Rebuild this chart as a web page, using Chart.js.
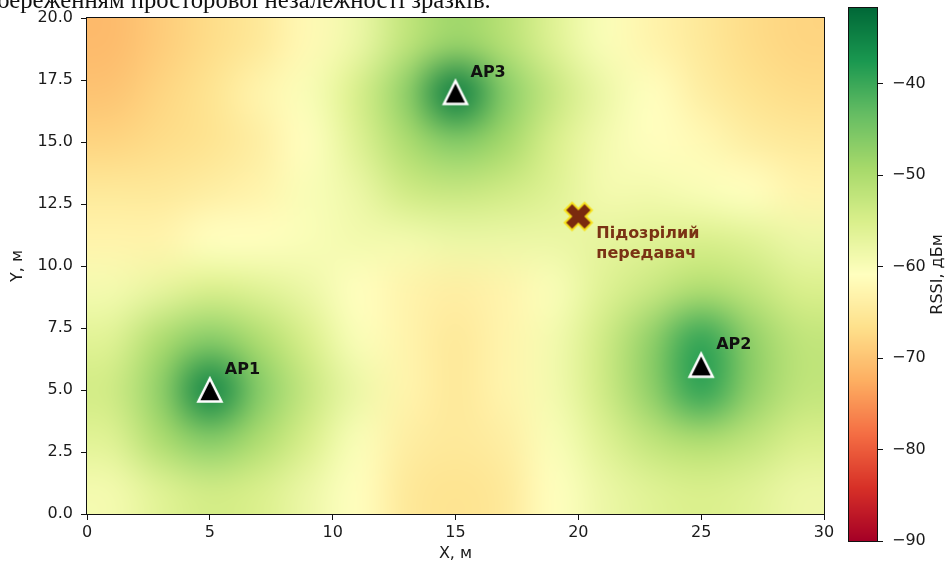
<!DOCTYPE html>
<html lang="uk">
<head>
<meta charset="UTF-8">
<title>RSSI heatmap</title>
<script src="https://cdn.jsdelivr.net/npm/chart.js"></script>
<style>
  body { margin: 0; background: #fff; width: 949px; height: 567px; overflow: hidden; position: relative; }
  #main { position: absolute; left: 0; top: 0; }
  #cbar { position: absolute; left: 840px; top: 0; }
  #caption {
    position: absolute; left: -3px; top: -12px; z-index: 2;
    font: 24.7px/24px "Liberation Serif", serif; color: #111; white-space: nowrap;
  }
</style>
</head>
<body>
<canvas id="main" width="949" height="567"></canvas>
<canvas id="cbar" width="109" height="567"></canvas>
<div id="caption">береженням просторової незалежності зразків.</div>

<script>
// grid cell centres, metres (2 m cells)
const xCells = [1, 3, 5, 7, 9, 11, 13, 15, 17, 19, 21, 23, 25, 27, 29];
const yCells = [19, 17, 15, 13, 11, 9, 7, 5, 3, 1];

// RSSI, dBm, rows top (y=19) to bottom (y=1)
const rssi = [
  [-71, -69, -67, -65, -62, -58, -52, -48, -51, -56, -60, -63, -65, -67, -68],
  [-70, -68, -66, -63, -60, -55, -47, -34, -46, -53, -58, -61, -64, -66, -67],
  [-68, -67, -66, -64, -61, -56, -50, -46, -49, -55, -59, -61, -62, -64, -65],
  [-65, -65, -64, -63, -60, -58, -54, -53, -54, -56, -59, -59, -60, -61, -63],
  [-63, -63, -61, -61, -60, -59, -59, -58, -58, -58, -57, -56, -55, -56, -58],
  [-59, -57, -55, -56, -58, -61, -63, -64, -63, -60, -56, -53, -50, -52, -55],
  [-56, -50, -46, -50, -55, -60, -63, -65, -63, -59, -54, -47, -39, -47, -52],
  [-54, -47, -35, -46, -53, -58, -63, -65, -63, -59, -54, -47, -39, -47, -52],
  [-56, -50, -46, -50, -55, -60, -64, -65, -64, -60, -56, -52, -50, -52, -55],
  [-59, -56, -54, -55, -58, -61, -65, -66, -65, -61, -58, -56, -55, -56, -58]
];

const apNames = ['AP1', 'AP2', 'AP3'];
const apX = [5, 25, 15];
const apY = [5, 6, 17];
const txX = [20];
const txY = [12];
const txLabel = ['Підозрілий', 'передавач'];

const xTicks = [0, 5, 10, 15, 20, 25, 30];
const yTicks = [0, 2.5, 5, 7.5, 10, 12.5, 15, 17.5, 20];
const cbTicks = [-90, -80, -70, -60, -50, -40];
const vMin = -90, vMax = -31.7;

Chart.defaults.font.family = '"DejaVu Sans", sans-serif';

// RdYlGn colour map
const stops = ['#a50026', '#d73027', '#f46d43', '#fdae61', '#fee08b', '#ffffbf',
  '#d9ef8b', '#a6d96a', '#66bd63', '#1a9850', '#006837'].map(h =>
  [parseInt(h.slice(1, 3), 16), parseInt(h.slice(3, 5), 16), parseInt(h.slice(5, 7), 16)]);

function colorFor(v) {
  let t = (v - vMin) / (vMax - vMin);
  t = Math.max(0, Math.min(1, t));
  const p = t * 10;
  const i = Math.min(9, Math.floor(p));
  const f = p - i;
  const a = stops[i], b = stops[i + 1];
  return [0, 1, 2].map(k => Math.round(a[k] + (b[k] - a[k]) * f));
}

// marker images
function triangleMarker() {
  const c = document.createElement('canvas');
  c.width = 34; c.height = 34;
  const g = c.getContext('2d');
  const s = 11.5;
  g.translate(17, 17);
  g.beginPath();
  g.moveTo(0, -s); g.lineTo(s, s); g.lineTo(-s, s); g.closePath();
  g.fillStyle = '#000';
  g.fill();
  g.lineWidth = 2.5;
  g.strokeStyle = '#fff';
  g.lineJoin = 'miter';
  g.stroke();
  return c;
}

function crossMarker() {
  const c = document.createElement('canvas');
  c.width = 40; c.height = 40;
  const g = c.getContext('2d');
  const w = 4.2, L = 13;
  const pts = [[-w, -L], [w, -L], [w, -w], [L, -w], [L, w], [w, w], [w, L], [-w, L], [-w, w], [-L, w], [-L, -w], [-w, -w]];
  g.translate(20, 20);
  g.rotate(Math.PI / 4);
  g.beginPath();
  pts.forEach((p, i) => i ? g.lineTo(p[0], p[1]) : g.moveTo(p[0], p[1]));
  g.closePath();
  g.lineWidth = 4;
  g.lineJoin = 'miter';
  g.strokeStyle = '#f7e11a';
  g.stroke();
  g.fillStyle = '#7a2a0e';
  g.fill();
  return c;
}

const heatmap = {
  id: 'heatmap',
  beforeDatasetsDraw(chart) {
    const { ctx, chartArea, scales: { x, y } } = chart;
    const nx = xCells.length, ny = yCells.length;
    const off = document.createElement('canvas');
    off.width = nx + 2; off.height = ny + 2;
    const octx = off.getContext('2d');
    const img = octx.createImageData(nx + 2, ny + 2);
    for (let j = 0; j < ny + 2; j++) {
      for (let i = 0; i < nx + 2; i++) {
        const jj = Math.min(ny - 1, Math.max(0, j - 1));
        const ii = Math.min(nx - 1, Math.max(0, i - 1));
        const c = colorFor(rssi[jj][ii]);
        const k = (j * (nx + 2) + i) * 4;
        img.data[k] = c[0]; img.data[k + 1] = c[1]; img.data[k + 2] = c[2]; img.data[k + 3] = 255;
      }
    }
    octx.putImageData(img, 0, 0);
    const hx = (xCells[1] - xCells[0]) / 2, hy = (yCells[0] - yCells[1]) / 2;
    const left = x.getPixelForValue(xCells[0] - hx);
    const right = x.getPixelForValue(xCells[nx - 1] + hx);
    const top = y.getPixelForValue(yCells[0] + hy);
    const bottom = y.getPixelForValue(yCells[ny - 1] - hy);
    ctx.save();
    ctx.beginPath();
    ctx.rect(chartArea.left, chartArea.top, chartArea.width, chartArea.height);
    ctx.clip();
    ctx.imageSmoothingEnabled = true;
    ctx.imageSmoothingQuality = 'high';
    ctx.drawImage(off, 1, 1, nx, ny, left, top, right - left, bottom - top);
    ctx.restore();
    // frame
    ctx.save();
    ctx.strokeStyle = '#111';
    ctx.lineWidth = 1;
    ctx.strokeRect(chartArea.left - 0.5, chartArea.top - 0.5, chartArea.width + 1, chartArea.height + 1);
    ctx.restore();
  }
};

const labels = {
  id: 'labels',
  afterDatasetsDraw(chart) {
    const { ctx, scales: { x, y } } = chart;
    ctx.save();
    ctx.font = 'bold 16px "DejaVu Sans"';
    ctx.textAlign = 'left';
    ctx.textBaseline = 'middle';
    ctx.fillStyle = '#111';
    apNames.forEach((n, i) => {
      ctx.fillText(n, x.getPixelForValue(apX[i]) + 15, y.getPixelForValue(apY[i]) - 20);
    });
    ctx.fillStyle = '#7a3214';
    txLabel.forEach((t, k) => {
      ctx.fillText(t, x.getPixelForValue(txX[0]) + 18, y.getPixelForValue(txY[0]) + 17 + k * 20);
    });
    ctx.restore();
  }
};

const tickFont = { family: '"DejaVu Sans"', size: 16 };

new Chart(document.getElementById('main'), {
  type: 'scatter',
  data: {
    datasets: [
      {
        label: 'Підозрілий передавач',
        data: txX.map((v, i) => ({ x: v, y: txY[i] })),
        pointStyle: crossMarker(),
        order: 0
      },
      {
        label: 'AP',
        data: apX.map((v, i) => ({ x: v, y: apY[i] })),
        pointStyle: triangleMarker(),
        order: 1
      }
    ]
  },
  options: {
    responsive: false,
    animation: false,
    events: [],
    layout: { padding: { left: 0, top: 18, right: 125, bottom: 0 } },
    plugins: { legend: { display: false }, tooltip: { enabled: false } },
    scales: {
      x: {
        type: 'linear', min: 0, max: 30,
        afterBuildTicks: s => { s.ticks = xTicks.map(v => ({ value: v })); },
        afterFit: s => { s.height = 53; s.paddingLeft = 0; s.paddingRight = 0; },
        grid: { drawOnChartArea: false, tickLength: 6, tickColor: '#111' },
        border: { display: false },
        ticks: { color: '#1a1a1a', font: tickFont, padding: 3, maxRotation: 0 },
        title: { display: true, text: 'X, м', color: '#1a1a1a', font: tickFont, padding: { top: 0, bottom: 4 } }
      },
      y: {
        type: 'linear', min: 0, max: 20,
        afterBuildTicks: s => { s.ticks = yTicks.map(v => ({ value: v })); },
        afterFit: s => { s.width = 87; s.paddingTop = 0; s.paddingBottom = 0; },
        grid: { drawOnChartArea: false, tickLength: 6, tickColor: '#111' },
        border: { display: false },
        ticks: { color: '#1a1a1a', font: tickFont, padding: 8, callback: v => v.toFixed(1) },
        title: { display: true, text: 'Y, м', color: '#1a1a1a', font: tickFont, padding: { top: 8, bottom: 0 } }
      }
    }
  },
  plugins: [heatmap, labels]
});

// colour bar
const colorbar = {
  id: 'colorbar',
  beforeDatasetsDraw(chart) {
    const { ctx, chartArea, scales: { y } } = chart;
    ctx.save();
    for (let py = Math.floor(chartArea.top); py < chartArea.bottom; py++) {
      const c = colorFor(y.getValueForPixel(py + 0.5));
      ctx.fillStyle = `rgb(${c[0]},${c[1]},${c[2]})`;
      ctx.fillRect(chartArea.left, py, chartArea.width, 1);
    }
    ctx.strokeStyle = '#111';
    ctx.lineWidth = 1;
    ctx.strokeRect(chartArea.left - 0.5, chartArea.top - 0.5, chartArea.width + 1, chartArea.height + 1);
    ctx.translate(chartArea.right + 61, (chartArea.top + chartArea.bottom) / 2);
    ctx.rotate(-Math.PI / 2);
    ctx.font = '16px "DejaVu Sans"';
    ctx.fillStyle = '#1a1a1a';
    ctx.textAlign = 'center';
    ctx.textBaseline = 'middle';
    ctx.fillText('RSSI, дБм', 0, 0);
    ctx.restore();
  }
};

new Chart(document.getElementById('cbar'), {
  type: 'scatter',
  data: { datasets: [] },
  options: {
    responsive: false,
    animation: false,
    events: [],
    layout: { padding: { left: 9, top: 8, right: 0, bottom: 26 } },
    plugins: { legend: { display: false }, tooltip: { enabled: false } },
    scales: {
      x: { display: false, min: 0, max: 1 },
      y: {
        position: 'right', min: vMin, max: vMax,
        afterBuildTicks: s => { s.ticks = cbTicks.map(v => ({ value: v })); },
        afterFit: s => { s.width = 72; s.paddingTop = 0; s.paddingBottom = 0; },
        grid: { drawOnChartArea: false, tickLength: 6, tickColor: '#111' },
        border: { display: false },
        ticks: { color: '#1a1a1a', font: tickFont, padding: 9, callback: v => '\u2212' + Math.abs(v) }
      }
    }
  },
  plugins: [colorbar]
});
</script>
</body>
</html>
